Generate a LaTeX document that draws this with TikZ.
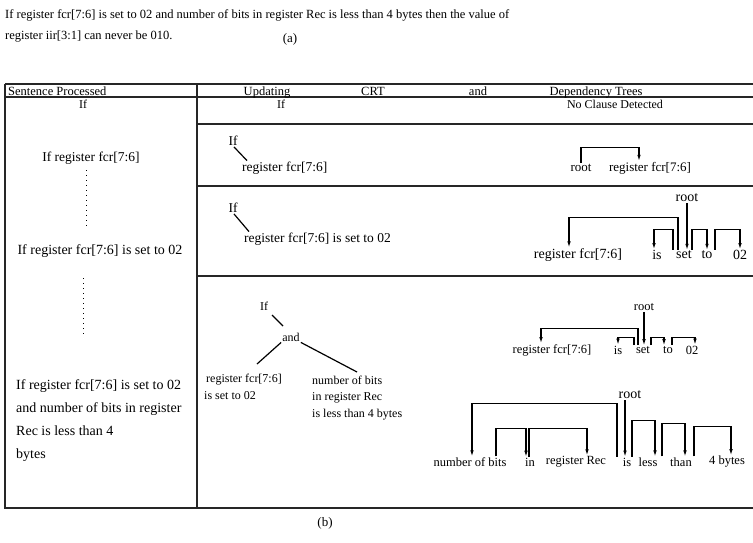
\documentclass[tikz,border=0pt]{standalone}
\usepackage{fontspec}
\setmainfont{Liberation Serif}
\usetikzlibrary{arrows.meta,positioning,calc}
\newcommand\fsz[1]{\fontsize{#1}{1.25em}\selectfont}
\tikzset{
  tbl/.style={line width=1.3pt, black!85},
  crt/.style={line width=1.2pt},
  deparr/.style={line width=1.1pt, -{Latex[length=6pt,width=3.6pt]}},
  dots/.style={line width=0.8pt, dash pattern=on 0.8pt off 4.2pt},
  hd/.style={inner sep=0pt, font=\fsz{12.5}, anchor=base},
  cell/.style={inner sep=1pt, font=\fsz{12}},
  lft/.style={inner sep=1pt, font=\fontsize{14}{23}\selectfont, anchor=west},
  wd/.style={inner sep=1pt, font=\fsz{12.5}},
  bigwd/.style={inner sep=1pt, font=\fsz{14}},
  small/.style={inner sep=1pt, font=\fontsize{12}{16.5}\selectfont, align=left, anchor=west},
}

\begin{document}
\begin{tikzpicture}[x=1pt, y=-1pt]
  \useasboundingbox (0,0) rectangle (753,542);
  % --- sentence and captions
  \node[cell, font=\fsz{12.5}, anchor=west] (sent1) at (4,15) {If register fcr[7:6] is set to 02 and number of bits in register Rec is less than 4 bytes then the value of};
  \node[cell, font=\fsz{12.5}, anchor=west] (sent2) at (4,37) {register iir[3:1] can never be 010.};
  \node[cell, font=\fsz{13}] (capA) at (290,39) {(a)};
  \node[cell, font=\fsz{13}] (capB) at (325,523) {(b)};
  % --- table frame
  \draw[tbl] (5,84) -- (753,84);
  \draw[tbl] (5,97) -- (753,97);
  \draw[tbl] (5,84) -- (5,508) -- (753,508);
  \draw[tbl] (197,84) -- (197,508);
  \foreach \y in {124,186,276}{
    \draw[tbl] (197,\y) -- (753,\y);
  }
  % --- header
  \node[hd, anchor=base west] (hSent) at (8,95.5) {Sentence Processed};
  \node[hd] (hUpd) at (267,95.5) {Updating};
  \node[hd] (hCrt) at (373,95.5) {CRT};
  \node[hd] (hAnd) at (478,95.5) {and};
  \node[hd] (hDep) at (596,95.5) {Dependency Trees};
  % --- row 1
  \node[cell] (s1) at (83,104) {If};
  \node[cell] (c1) at (281,104) {If};
  \node[cell] (d1) at (615,104) {No Clause Detected};
  % --- left column
  \node[cell, font=\fsz{13.5}] (s2) at (91,158) {If register fcr[7:6]};
  \node[cell, font=\fsz{14}] (s3) at (100,251) {If register fcr[7:6] is set to 02};
  \coordinate (dot1) at (86,170);
  \coordinate (dot2) at (86,227);
  \draw[dots] (dot1) -- (dot2);
  \node[lft, align=left] (s4) at (15,421) {If register fcr[7:6] is set to 02\\and number of bits in register\\Rec is less than 4\\bytes};
  \coordinate (dotA) at (83,278);
  \coordinate (dotB) at (83,335);
  \draw[dots] (dotA) -- (dotB);
  % --- row 2
  \node[cell, font=\fsz{13.5}] (c2if) at (233,141) {If};
  \node[cell, font=\fsz{13.5}, anchor=west] (c2reg) at (241,168) {register fcr[7:6]};
  \draw[crt] ([xshift=1pt]c2if.south) -- ([xshift=6pt]c2reg.north west);
  \node[wd, font=\fsz{13}] (d2root) at (581,168) {root};
  \node[wd, font=\fsz{13}] (d2reg) at (650,168) {register fcr[7:6]};
  \draw[deparr] (d2root.north) -- ++(0,-16) -| ([xshift=-11pt]d2reg.north);
  % --- row 3
  \node[cell, font=\fsz{13.5}] (c3if) at (233,208) {If};
  \node[cell, font=\fsz{13.5}, anchor=west] (c3reg) at (243,239) {register fcr[7:6] is set to 02};
  \node[bigwd] (d3root) at (687,198) {root};
  \node[bigwd] (d3reg) at (578,255) {register fcr[7:6]};
  \node[bigwd] (d3is) at (657,255) {is};
  \node[bigwd] (d3set) at (684,255) {set};
  \node[bigwd] (d3to) at (707,255) {to};
  \node[bigwd] (d3two) at (740,255) {02};
  \draw[crt] ([xshift=1pt]c3if.south) -- ([xshift=6pt]c3reg.north west);
  \draw[deparr] (d3root.south) -- (d3root.south |- d3set.north);
  \draw[deparr] ([xshift=-6pt]d3set.north) -- ++(0,-32) -| ([xshift=-9pt]d3reg.north);
  \draw[deparr] ([xshift=-11pt]d3set.north) -- ++(0,-20) -| ([xshift=-3pt]d3is.north);
  \draw[deparr] ([xshift=8pt]d3set.north) -- ++(0,-20) -| (d3to.north);
  \draw[deparr] ([xshift=8pt]d3to.north) -- ++(0,-20) -| (d3two.north);
  % --- row 4: clause tree
  \node[cell] (c4if) at (264,306) {If};
  \node[cell] (c4and) at (291,337) {and};
  \node[small] (c4left) at (203,387) {\,register fcr[7:6]\\is set to 02};
  \node[small] (c4right) at (311,398) {number of bits\\in register Rec\\is less than 4 bytes};
  \draw[crt] (272,315) -- (283,326);
  \draw[crt] (c4and.south west) -- (257,364);
  \draw[crt] (c4and.south east) -- (357,372);
  % --- row 4: dependency tree of first clause
  \node[wd] (d4root) at (644,307) {root};
  \node[wd] (d4reg) at (552,350) {register fcr[7:6]};
  \node[wd] (d4is) at (618,350) {is};
  \node[wd] (d4set) at (643,350) {set};
  \node[wd] (d4to) at (668,350) {to};
  \node[wd] (d4two) at (692,350) {02};
  \draw[deparr] (d4root.south) -- (d4root.south |- d4set.north);
  \draw[deparr] ([xshift=-5pt]d4set.north) -- ++(0,-17) -| ([xshift=-11pt]d4reg.north);
  \draw[deparr] ([xshift=-9pt]d4set.north) -- ++(0,-8) -| (d4is.north);
  \draw[deparr] ([xshift=8pt]d4set.north) -- ++(0,-8) -| ([xshift=-4pt]d4to.north);
  \draw[deparr] ([xshift=4pt]d4to.north) -- ++(0,-8) -| ([xshift=3pt]d4two.north);
  % --- row 4: dependency tree of second clause
  \node[bigwd] (d5root) at (630,395) {root};
  \node[wd] (d5num) at (470,462) {number of bits};
  \node[wd] (d5in) at (530,462) {in};
  \node[wd] (d5rec) at (576,462) {register Rec};
  \node[wd] (d5is) at (627,462) {is};
  \node[wd] (d5less) at (648,462) {less};
  \node[wd] (d5than) at (681,462) {than};
  \node[wd] (d5four) at (727,462) {4 bytes};
  \draw[deparr] ([xshift=-5pt]d5root.south) -- ([xshift=-5pt]d5root.south |- d5is.north);
  \draw[deparr] ([xshift=-10pt]d5is.north) -- ++(0,-53) -| ([xshift=2pt]d5num.north);
  \draw[deparr] ([xshift=5pt]d5is.north) -- ++(0,-36) -| ([xshift=7pt]d5less.north);
  \draw[deparr] ([xshift=14pt]d5less.north) -- ++(0,-33) -| ([xshift=4pt]d5than.north);
  \draw[deparr] ([xshift=13pt]d5than.north) -- ++(0,-30) -| ([xshift=4pt]d5four.north);
  \draw[deparr] ([xshift=26pt]d5num.north) -- ++(0,-28) -| ([xshift=-4pt]d5in.north);
  \draw[deparr] ([xshift=-1pt]d5in.north) -- ++(0,-28) -| ([xshift=11pt]d5rec.north);
\end{tikzpicture}
\end{document}
